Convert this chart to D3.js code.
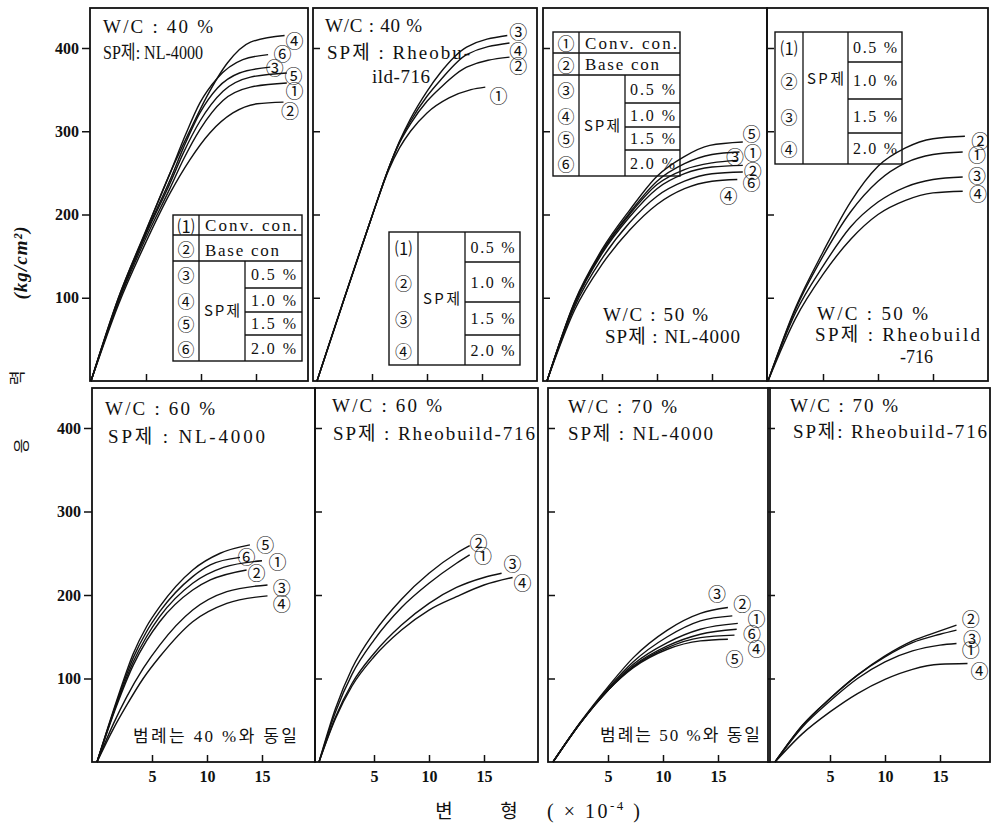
<!DOCTYPE html>
<html>
<head>
<meta charset="utf-8">
<script src="https://cdn.jsdelivr.net/npm/d3@7/dist/d3.min.js"></script>
<style>
  html, body { margin: 0; padding: 0; background: #fff; }
  svg { display: block; }
</style>
</head>
<body>
<svg id="chart" width="999" height="829"></svg>
<script>
// ---------- axis ticks ----------
const strainTicks = [5, 10, 15];            // 변형 (×10⁻⁴)
const stressTicks = [100, 200, 300, 400];   // 응력 (kg/cm²)

// ---------- stress–strain curves: [strain ×10⁻⁴, stress kg/cm²] ----------
// W/C 40 %, SP제 NL-4000
const curvesW40NL = [
  { id: "④", pts: [[0,0],[2.5,100],[5,180],[7.2,250],[9,301],[10.5,341],[12.4,382],[14.5,407],[17.6,415]] },
  { id: "⑥", pts: [[0,0],[2.5,100],[5,181],[7.2,250],[8.6,296],[9.9,334],[11.5,364],[13.8,386],[16.1,392]] },
  { id: "③", pts: [[0,0],[2.5,98],[5,178],[7.2,242],[8.4,280],[9.9,322],[11.5,352],[13.5,370],[16.3,377]] },
  { id: "⑤", pts: [[0,0],[2.5,97],[5,176],[7.2,238],[8.4,274],[9.9,312],[12,348],[14.5,365],[17.8,370]] },
  { id: "①", pts: [[0,0],[2.5,95],[5,172],[7.2,232],[8.4,266],[9.9,302],[12,337],[14.5,353],[17.8,358]] },
  { id: "②", pts: [[0,0],[2.5,92],[5,167],[7.2,226],[9,266],[10.8,298],[12.9,322],[15.1,333],[17.5,335]] }
];
const tagsW40NL = [["④",18.5,410],["⑥",17.4,394],["③",16.7,377],["⑤",18.4,368],["①",18.5,350],["②",18.1,326]];

// W/C 40 %, SP제 Rheobuild-716
const curvesW40RB = [
  { id: "③", pts: [[0,0],[2.5,100],[5,198],[6.5,255],[7.5,288],[8.5,315],[10,348],[11.2,370],[13.6,401],[17.3,415]] },
  { id: "④", pts: [[0,0],[2.5,100],[5,198],[6.5,255],[7.5,287],[8.5,312],[10,342],[11.2,361],[13.6,392],[17.5,406]] },
  { id: "②", pts: [[0,0],[2.5,100],[5,198],[6.5,255],[7.5,286],[8.5,309],[10,336],[11.2,352],[13.6,377],[17.5,389]] },
  { id: "①", pts: [[0,0],[2.5,100],[5,198],[6.5,253],[7.5,280],[8.5,300],[10,322],[12,340],[14,350],[15.3,353]] }
];
const tagsW40RB = [["③",18.3,420],["④",18.3,397],["②",18.3,380],["①",16.5,343]];

// W/C 50 %, SP제 NL-4000
const curvesW50NL = [
  { id: "⑤", pts: [[0,0],[2.5,95],[5,158],[7.5,205],[10,246],[12.4,269],[14.8,283],[17.8,287]] },
  { id: "①", pts: [[0,0],[2.5,94],[5,156],[7.5,202],[10,240],[12.5,261],[15,272],[17.5,275]] },
  { id: "③", pts: [[0,0],[2.5,93],[5,155],[7.5,200],[10,236],[12.5,254],[15,262],[17.3,265]] },
  { id: "②", pts: [[0,0],[2.5,92],[5,153],[7.5,197],[10,231],[12.5,249],[15,257],[17.8,259]] },
  { id: "⑥", pts: [[0,0],[2.5,89],[5,147],[7.5,190],[10,222],[12.5,240],[15,249],[17.8,251]] },
  { id: "④", pts: [[0,0],[2.5,85],[5,140],[7.5,181],[10,212],[12.5,231],[15,240],[17.3,242]] }
];
const tagsW50NL = [["⑤",18.6,298],["①",18.7,275],["③",17.1,270],["②",18.7,253],["⑥",18.6,239],["④",16.5,223]];

// W/C 50 %, SP제 Rheobuild-716
const curvesW50RB = [
  { id: "②", pts: [[0,0],[2.5,88],[5,155],[7.5,215],[10,258],[12.5,280],[15,291],[17.9,294]] },
  { id: "①", pts: [[0,0],[2.5,86],[5,150],[7.5,203],[10,240],[12.5,262],[15,272],[17.7,275]] },
  { id: "③", pts: [[0,0],[2.5,82],[5,138],[7.5,185],[10,215],[12.5,233],[15,242],[17.7,245]] },
  { id: "④", pts: [[0,0],[2.5,75],[5,128],[7.5,170],[10,200],[12.5,217],[15,226],[17.7,228]] }
];
const tagsW50RB = [["②",19.3,289],["①",19,273],["③",19,247],["④",19.1,226]];

// W/C 60 %, SP제 NL-4000
const curvesW60NL = [
  { id: "⑤", pts: [[0,0],[1.8,74],[3.3,130],[4.5,162],[5.7,186],[8.7,230],[11.2,250],[13.9,260]] },
  { id: "⑥", pts: [[0,0],[1.8,72],[3.3,125],[4.5,156],[5.7,180],[8.7,222],[10.3,236],[13,245]] },
  { id: "①", pts: [[0,0],[1.8,70],[3.3,120],[4.5,150],[5.7,174],[8.7,214],[11.5,233],[15,241]] },
  { id: "②", pts: [[0,0],[1.8,68],[3.3,116],[4.5,145],[5.7,168],[8.7,206],[10.3,218],[13.6,230]] },
  { id: "③", pts: [[0,0],[1.5,46],[2.7,78],[4.2,112],[5.7,140],[8.7,182],[11.8,204],[15.5,212]] },
  { id: "④", pts: [[0,0],[1.5,40],[2.7,68],[4.2,100],[5.7,126],[8.7,168],[11.8,190],[15.5,199]] }
];
const tagsW60NL = [["⑤",15.3,261],["⑥",13.6,247],["①",16.4,241],["②",14.5,227],["③",16.8,209],["④",16.8,191]];

// W/C 60 %, SP제 Rheobuild-716
const curvesW60RB = [
  { id: "②", pts: [[0,0],[1.5,64],[3,112],[5,155],[7.5,195],[10,226],[12.5,250],[13.7,259]] },
  { id: "①", pts: [[0,0],[1.5,60],[3,105],[5,146],[7.5,185],[10,214],[12.5,238],[13.7,248]] },
  { id: "③", pts: [[0,0],[1.5,54],[3,94],[5,130],[7.5,164],[10,190],[12.5,209],[15,221],[16.6,226]] },
  { id: "④", pts: [[0,0],[1.5,52],[3,91],[5,126],[7.5,158],[10,182],[12.5,198],[15,212],[17.6,221]] }
];
const tagsW60RB = [["②",14.5,263],["①",14.9,248],["③",17.6,238],["④",18.5,215]];

// W/C 70 %, SP제 NL-4000
const curvesW70NL = [
  { id: "③", pts: [[0,0],[2.5,48],[5,90],[7.3,125],[10.4,158],[13.4,178],[15.9,185]] },
  { id: "②", pts: [[0,0],[2.5,47],[5,88],[7.3,120],[10.4,150],[13.4,169],[16.3,175]] },
  { id: "①", pts: [[0,0],[2.5,47],[5,87],[7.3,117],[10.4,143],[13.4,159],[16.8,166]] },
  { id: "⑥", pts: [[0,0],[2.5,47],[5,86],[7.3,115],[10.4,139],[13.4,153],[16.7,159]] },
  { id: "④", pts: [[0,0],[2.5,47],[5,86],[7.3,114],[10.4,137],[13.4,149],[16.5,152]] },
  { id: "⑤", pts: [[0,0],[2.5,47],[5,86],[7.3,113],[10.4,135],[13.4,145],[15.9,147]] }
];
const tagsW70NL = [["③",14.9,202],["②",17.2,190],["①",18.5,172],["⑥",18.1,155],["④",18.5,136],["⑤",16.5,124]];

// W/C 70 %, SP제 Rheobuild-716
const curvesW70RB = [
  { id: "②", pts: [[0,0],[2.5,44],[5,76],[7.5,104],[10,127],[12.5,145],[15,157],[16.5,164]] },
  { id: "③", pts: [[0,0],[2.5,44],[5,76],[7.5,104],[10,126],[12.5,143],[15,153],[16.5,158]] },
  { id: "①", pts: [[0,0],[2.5,42],[5,73],[7.5,100],[10,120],[12.5,133],[15,140],[16.5,142]] },
  { id: "④", pts: [[0,0],[2.5,34],[5,60],[7.5,82],[10,99],[12.5,111],[15,117],[17.5,118]] }
];
const tagsW70RB = [["②",17.8,172],["③",17.9,149],["①",17.8,135],["④",18.6,110]];

// ---------- panel captions ----------
const notesW40NL = ["W/C : 40 %", "SP제: NL-4000"];
const notesW40RB = ["W/C : 40 %", "SP제 : Rheobu-", "ild-716"];
const notesW50NL = ["W/C : 50 %", "SP제 : NL-4000"];
const notesW50RB = ["W/C : 50 %", "SP제 : Rheobuild", "-716"];
const notesW60NL = ["W/C : 60 %", "SP제 : NL-4000"];
const notesW60RB = ["W/C : 60 %", "SP제 : Rheobuild-716"];
const notesW70NL = ["W/C : 70 %", "SP제 : NL-4000"];
const notesW70RB = ["W/C : 70 %", "SP제: Rheobuild-716"];
const sameLegendNotes = ["범례는 40 %와 동일", "범례는 50 %와 동일"];

// ---------- legend contents ----------
const legendBaseRows = ["Conv. con.", "Base con"];
const legendSpGroup = "SP제";
const spDoses = ["0.5 %", "1.0 %", "1.5 %", "2.0 %"];
const legendIdsNL = ["⑴", "②", "③", "④", "⑤", "⑥"];
const legendIdsNL50 = ["①", "②", "③", "④", "⑤", "⑥"];
const legendIdsRB = ["⑴", "②", "③", "④"];

// ---------- drawing ----------
const svg = d3.select("#chart");
const SERIF = "'Liberation Serif','Noto Sans CJK KR',serif";
const CJK = "'Noto Sans CJK KR','Noto Sans',sans-serif";
const INK = "#111";

// set a text to a target width: widen by spacing, or narrow the glyphs
function fitText(el, target) {
  const w = el.node().getComputedTextLength();
  el.attr("textLength", target).attr("lengthAdjust", w > target ? "spacingAndGlyphs" : "spacing");
  return el;
}

const panels = [
  { curves: curvesW40NL, tags: tagsW40NL, notes: notesW40NL, box: [90, 8, 308, 381, 91],
    notePos: [[103,33,110],[103,59,100]] },
  { curves: curvesW40RB, tags: tagsW40RB, notes: notesW40RB, box: [313, 8, 537, 381, 317],
    notePos: [[325,32,97],[327,59,143],[372,83,58]] },
  { curves: curvesW50NL, tags: tagsW50NL, notes: notesW50NL, box: [543, 8, 767, 381, 547],
    notePos: [[603,321,105],[605,343,135]] },
  { curves: curvesW50RB, tags: tagsW50RB, notes: notesW50RB, box: [767, 8, 988, 381, 768],
    notePos: [[817,320,111],[815,341,165],[900,363,33]] },
  { curves: curvesW60NL, tags: tagsW60NL, notes: notesW60NL, box: [92, 388, 315, 762, 97],
    notePos: [[105,415,110],[108,443,157]] },
  { curves: curvesW60RB, tags: tagsW60RB, notes: notesW60RB, box: [315, 388, 538, 762, 319],
    notePos: [[332,412,110],[333,440,202]] },
  { curves: curvesW70NL, tags: tagsW70NL, notes: notesW70NL, box: [548, 388, 770, 762, 553],
    notePos: [[568,413,109],[568,440,145]] },
  { curves: curvesW70RB, tags: tagsW70RB, notes: notesW70RB, box: [768, 388, 990, 762, 775],
    notePos: [[790,412,108],[793,438,194]] }
];

// legend tables go beneath the curves, which pass over their cells
const legendLayer = svg.append("g");

panels.forEach((p, i) => {
  const [left, top, right, bottom, ox] = p.box;
  const row = i < 4 ? 0 : 1;
  const col = i % 4;
  const x = d3.scaleLinear().domain([0, 20]).range([ox, ox + 220]);
  const y = d3.scaleLinear().domain([0, 400]).range(row === 0 ? [381, 48] : [762, 428]);
  const g = svg.append("g");

  // frame
  g.append("rect")
    .attr("x", left).attr("y", top)
    .attr("width", right - left).attr("height", bottom - top)
    .attr("fill", "none").attr("stroke", INK).attr("stroke-width", 1.8);

  // stress ticks
  const yAxis = d3.axisLeft(y).tickValues(stressTicks).tickSizeOuter(0);
  if (col === 0) yAxis.tickSizeInner(8).tickPadding(3).tickFormat(d3.format("d"));
  else yAxis.tickSizeInner(-7).tickFormat("");
  const ya = g.append("g").attr("transform", `translate(${left},0)`).call(yAxis);
  ya.select(".domain").remove();
  ya.selectAll("line").attr("stroke", INK).attr("stroke-width", 1.5);
  ya.selectAll("text").attr("font-family", SERIF).attr("font-size", 16)
    .attr("font-weight", "bold").attr("fill", INK);

  // strain ticks
  const xAxis = d3.axisBottom(x).tickValues(strainTicks).tickSizeOuter(0).tickSizeInner(-7);
  if (row === 1) xAxis.tickPadding(9).tickFormat(d3.format("d"));
  else xAxis.tickFormat("");
  const xa = g.append("g").attr("transform", `translate(0,${bottom})`).call(xAxis);
  xa.select(".domain").remove();
  xa.selectAll("line").attr("stroke", INK).attr("stroke-width", 1.5);
  xa.selectAll("text").attr("font-family", SERIF).attr("font-size", 16)
    .attr("font-weight", "bold").attr("fill", INK);

  // curves
  const line = d3.line().x(d => x(d[0])).y(d => y(d[1])).curve(d3.curveMonotoneX);
  g.selectAll("path.curve").data(p.curves).join("path")
    .attr("class", "curve")
    .attr("d", d => line(d.pts))
    .attr("fill", "none").attr("stroke", INK).attr("stroke-width", 1.4);

  // curve tags
  g.selectAll("text.tag").data(p.tags).join("text")
    .attr("class", "tag")
    .attr("x", d => x(d[1])).attr("y", d => y(d[2]))
    .attr("text-anchor", "middle").attr("dominant-baseline", "central")
    .attr("font-family", CJK).attr("font-size", 18).attr("fill", INK)
    .text(d => d[0]);

  // captions
  p.notes.forEach((t, k) => {
    const [nx, ny, nw] = p.notePos[k];
    const el = g.append("text").attr("x", nx).attr("y", ny)
      .attr("font-family", SERIF).attr("font-size", 19).attr("fill", INK)
      .text(t);
    fitText(el, nw);
  });
});

// "same legend as ..." notes
[[sameLegendNotes[0], 133, 742, 164], [sameLegendNotes[1], 600, 741, 160]].forEach(([t, nx, ny, nw]) => {
  const el = svg.append("text").attr("x", nx).attr("y", ny)
    .attr("font-family", SERIF).attr("font-size", 17).attr("fill", INK)
    .text(t);
  fitText(el, nw);
});

// ---------- legend tables ----------
function hLine(g, x1, x2, yy) {
  g.append("line").attr("x1", x1).attr("x2", x2).attr("y1", yy).attr("y2", yy)
    .attr("stroke", INK).attr("stroke-width", 1.3);
}
function vLine(g, xx, y1, y2) {
  g.append("line").attr("x1", xx).attr("x2", xx).attr("y1", y1).attr("y2", y2)
    .attr("stroke", INK).attr("stroke-width", 1.3);
}
function cellText(g, t, cx, cy, family, size, width, anchor) {
  const el = g.append("text").attr("x", cx).attr("y", cy)
    .attr("text-anchor", anchor || "middle")
    .attr("font-family", family).attr("font-size", size).attr("fill", INK).text(t);
  if (width) fitText(el, width);
  return el;
}

// six-row legend (Conv. / Base / four SP doses)
function legendSix(b, ids) {
  const g = legendLayer.append("g");
  g.append("rect").attr("x", b.x0).attr("y", b.y0).attr("width", b.x1 - b.x0).attr("height", b.y1 - b.y0)
    .attr("fill", "none").attr("stroke", INK).attr("stroke-width", 1.4);
  vLine(g, b.c1, b.y0, b.y1);
  vLine(g, b.c2, b.r2, b.y1);
  hLine(g, b.x0, b.x1, b.r1);
  hLine(g, b.x0, b.x1, b.r2);
  b.s.forEach(s => hLine(g, b.c2, b.x1, s));
  const bands = [b.y0, b.r1, b.r2, ...b.s, b.y1];
  const nx = (b.x0 + b.c1) / 2;
  ids.forEach((id, k) => {
    const cy = (bands[k] + bands[k + 1]) / 2;
    cellText(g, id, nx, cy, CJK, 17).attr("dominant-baseline", "central");
  });
  cellText(g, legendBaseRows[0], b.c1 + 6, b.r1 - 4, SERIF, 17, 92, "start");
  cellText(g, legendBaseRows[1], b.c1 + 6, b.r2 - 5, SERIF, 17, 74, "start");
  cellText(g, legendSpGroup, (b.c1 + b.c2) / 2, (b.r2 + b.y1) / 2 + 5, CJK, 15, 36);
  spDoses.forEach((t, k) => {
    const cy = (bands[k + 2] + bands[k + 3]) / 2;
    cellText(g, t, (b.c2 + b.x1) / 2, cy + 5.5, SERIF, 16, 45);
  });
}

// four-row legend (four SP doses)
function legendFour(b, ids) {
  const g = legendLayer.append("g");
  g.append("rect").attr("x", b.x0).attr("y", b.y0).attr("width", b.x1 - b.x0).attr("height", b.y1 - b.y0)
    .attr("fill", "none").attr("stroke", INK).attr("stroke-width", 1.4);
  vLine(g, b.c1, b.y0, b.y1);
  vLine(g, b.c2, b.y0, b.y1);
  b.s.forEach(s => hLine(g, b.c2, b.x1, s));
  const bands = [b.y0, ...b.s, b.y1];
  const nx = (b.x0 + b.c1) / 2;
  ids.forEach((id, k) => {
    const cy = (bands[k] + bands[k + 1]) / 2;
    cellText(g, id, nx, cy, CJK, 17).attr("dominant-baseline", "central");
  });
  cellText(g, legendSpGroup, (b.c1 + b.c2) / 2, b.spY, CJK, 15, 37);
  spDoses.forEach((t, k) => {
    const cy = (bands[k] + bands[k + 1]) / 2;
    cellText(g, t, (b.c2 + b.x1) / 2, cy + 5.5, SERIF, 16, 44);
  });
}

legendSix({ x0: 173, y0: 215, x1: 302, y1: 361, c1: 199, c2: 245, r1: 235, r2: 261, s: [288, 312, 335] }, legendIdsNL);
legendSix({ x0: 553, y0: 32, x1: 680, y1: 176, c1: 579, c2: 625, r1: 53, r2: 75, s: [103, 127, 150] }, legendIdsNL50);
legendFour({ x0: 389, y0: 232, x1: 520, y1: 365, c1: 418, c2: 465, s: [262, 302, 335], spY: 304 }, legendIdsRB);
legendFour({ x0: 775, y0: 32, x1: 902, y1: 164, c1: 803, c2: 848, s: [62, 99, 133], spY: 84 }, legendIdsRB);

// ---------- axis titles ----------
// vertical: 응 력 (kg/cm²), read bottom to top
const yUnit = svg.append("text").attr("transform", "translate(20,263) rotate(-90)")
  .attr("text-anchor", "middle").attr("dominant-baseline", "central")
  .attr("font-family", SERIF).attr("font-size", 19)
  .attr("font-style", "italic").attr("font-weight", "bold").attr("fill", INK)
  .text("(kg/cm²)");
fitText(yUnit, 73);
svg.append("text").attr("transform", "translate(16,378) rotate(-90)")
  .attr("text-anchor", "middle").attr("dominant-baseline", "central")
  .attr("font-family", CJK).attr("font-size", 16).attr("fill", INK)
  .text("력");
svg.append("text").attr("transform", "translate(20,446) rotate(-90)")
  .attr("text-anchor", "middle").attr("dominant-baseline", "central")
  .attr("font-family", CJK).attr("font-size", 16).attr("fill", INK)
  .text("응");

// horizontal: 변 형 (×10⁻⁴)
svg.append("text").attr("x", 444).attr("y", 818).attr("text-anchor", "middle")
  .attr("font-family", CJK).attr("font-size", 19).attr("fill", INK).text("변");
svg.append("text").attr("x", 509).attr("y", 818).attr("text-anchor", "middle")
  .attr("font-family", CJK).attr("font-size", 19).attr("fill", INK).text("형");
const unit = svg.append("text").attr("x", 547).attr("y", 818)
  .attr("font-family", SERIF).attr("font-size", 20).attr("fill", INK);
unit.append("tspan").text("(  ×  10");
unit.append("tspan").attr("font-size", 13).attr("dy", -8).text("-4");
unit.append("tspan").attr("dy", 8).text(" )");
fitText(unit, 93);
</script>
</body>
</html>
